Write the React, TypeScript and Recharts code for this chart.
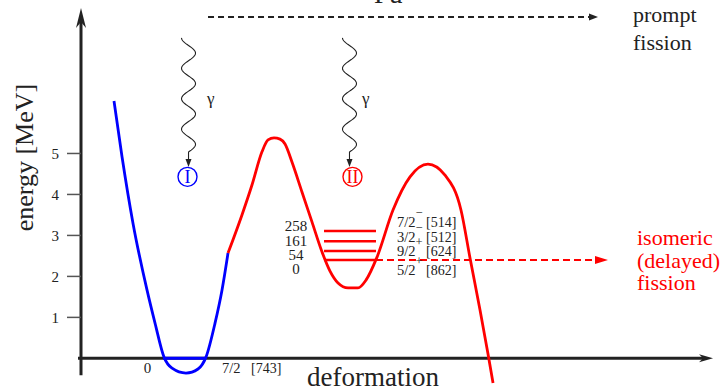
import React from "react";
import { ComposedChart, Line, XAxis, YAxis, ReferenceLine, ReferenceDot } from "recharts";

const SERIF = '"Liberation Serif", "DejaVu Serif", serif';
const INK = "#222";
const BLUE = "#0000ff";
const RED = "#ff0000";

// ground-state well (deformation, energy in MeV)
const firstWell = [
  { x: 0.518, e: 6.28 },
  { x: 0.644, e: 4.92 },
  { x: 0.816, e: 3.3 },
  { x: 1.036, e: 1.67 },
  { x: 1.162, e: 0.86 },
  { x: 1.303, e: 0.03 },
  { x: 1.429, e: -0.24 },
  { x: 1.648, e: -0.36 },
  { x: 1.837, e: -0.26 },
  { x: 1.962, e: 0.03 },
  { x: 2.104, e: 0.86 },
  { x: 2.214, e: 1.67 },
  { x: 2.308, e: 2.57 },
];

// inner barrier, isomer well and outer barrier
const doubleHump = [
  { x: 2.308, e: 2.57 },
  { x: 2.527, e: 3.5 },
  { x: 2.684, e: 4.23 },
  { x: 2.841, e: 5.04 },
  { x: 2.936, e: 5.33 },
  { x: 3.03, e: 5.38 },
  { x: 3.124, e: 5.35 },
  { x: 3.203, e: 5.23 },
  { x: 3.312, e: 4.79 },
  { x: 3.469, e: 4.06 },
  { x: 3.626, e: 3.33 },
  { x: 3.783, e: 2.6 },
  { x: 3.909, e: 2.13 },
  { x: 4.035, e: 1.84 },
  { x: 4.192, e: 1.72 },
  { x: 4.349, e: 1.72 },
  { x: 4.474, e: 1.91 },
  { x: 4.647, e: 2.47 },
  { x: 4.898, e: 3.62 },
  { x: 5.165, e: 4.43 },
  { x: 5.447, e: 4.74 },
  { x: 5.714, e: 4.47 },
  { x: 5.965, e: 3.62 },
  { x: 6.107, e: 2.45 },
  { x: 6.264, e: 1.18 },
  { x: 6.389, e: 0.11 },
  { x: 6.468, e: -0.6 },
];

const energyTicks = [1, 2, 3, 4, 5];

// ground state in well I
const groundLevel = { e: 0, from: 1.287, to: 1.947 };
const groundOrbit = { spin: "7/2", parity: "−", orbit: "[743]" };

// band in well II, bottom to top
const isomerLevelE = [2.4, 2.62, 2.86, 3.11];
const isomerKeV = ["0", "54", "161", "258"];
const isomerSpin = ["5/2", "9/2", "3/2", "7/2"];
const isomerParity = ["+", "+", "−", "−"];
const isomerOrbit = ["[862]", "[624]", "[512]", "[514]"];
const levelFrom = 3.815;
const levelTo = 4.631;

// label rows beside the band (energy of each baseline)
const keVRowE = [2.06, 2.4, 2.75, 3.11];
const orbitRowE = [2.035, 2.498, 2.84, 3.206];

const textAt =
  (text: string, opts: { size?: number; color?: string; anchor?: string } = {}) =>
  (p: any) => (
    <text
      x={p.cx}
      y={p.cy}
      fontFamily={SERIF}
      fontSize={opts.size ?? 15}
      fill={opts.color ?? INK}
      textAnchor={opts.anchor ?? "start"}
    >
      {text}
    </text>
  );

const orbitLabel =
  (spin: string, parity: string, orbit: string, size = 14.5) =>
  (p: any) => (
    <g fontFamily={SERIF} fill={INK}>
      <text x={p.cx} y={p.cy} fontSize={size}>
        {spin}
      </text>
      <text x={p.cx + 22} y={p.cy - 10} fontSize={size - 2} textAnchor="middle">
        {parity}
      </text>
      <text x={p.cx + 29} y={p.cy} fontSize={size - 0.5}>
        {orbit}
      </text>
    </g>
  );

const rotatedText = (text: string, size: number) => (p: any) => (
  <text
    transform={`translate(${p.cx},${p.cy}) rotate(-90)`}
    fontFamily={SERIF}
    fontSize={size}
    fill={INK}
    textAnchor="middle"
  >
    {text}
  </text>
);

const circled = (text: string, color: string) => (p: any) => (
  <g>
    <circle cx={p.cx} cy={p.cy} r={9.5} fill="#fff" stroke={color} strokeWidth={1.4} />
    <text
      x={p.cx}
      y={p.cy + 6}
      fontFamily={SERIF}
      fontSize={18}
      fill={color}
      textAnchor="middle"
    >
      {text}
    </text>
  </g>
);

// straight (optionally dashed) line with an arrow head at the second end
const arrowLine =
  (color: string, width: number, dash: string | undefined, len: number, half: number, notch: number) =>
  (p: any) => {
    const { x1, y1, x2, y2 } = p;
    const a = Math.atan2(y2 - y1, x2 - x1);
    const c = Math.cos(a);
    const s = Math.sin(a);
    const bx = x2 - c * len;
    const by = y2 - s * len;
    const nx = x2 - c * (len - notch);
    const ny = y2 - s * (len - notch);
    const pts = [
      [x2, y2],
      [bx - s * half, by + c * half],
      [nx, ny],
      [bx + s * half, by - c * half],
    ]
      .map((q) => q.join(","))
      .join(" ");
    return (
      <g>
        <line
          x1={x1}
          y1={y1}
          x2={nx}
          y2={ny}
          stroke={color}
          strokeWidth={width}
          strokeDasharray={dash}
        />
        <polygon points={pts} fill={color} />
      </g>
    );
  };

// wavy gamma arrow running downwards
const gammaArrow = (p: any) => {
  const { x1, y1, y2 } = p;
  const waveEnd = y2 - 15;
  const turns = 3.75;
  const amp = 7;
  const steps = 120;
  let d = "";
  for (let i = 0; i <= steps; i++) {
    const t = i / steps;
    const y = y1 + t * (waveEnd - y1);
    const x = x1 - amp * Math.cos(2 * Math.PI * turns * t);
    d += `${i === 0 ? "M" : "L"}${x.toFixed(2)},${y.toFixed(2)}`;
  }
  d += `L${x1},${y2 - 6}`;
  return (
    <g>
      <path d={d} fill="none" stroke={INK} strokeWidth={1.1} />
      <polygon points={`${x1},${y2} ${x1 - 3},${y2 - 8} ${x1 + 3},${y2 - 8}`} fill={INK} />
    </g>
  );
};

const plainLine = (color: string, width: number) => (p: any) => (
  <line x1={p.x1} y1={p.y1} x2={p.x2} y2={p.y2} stroke={color} strokeWidth={width} />
);

export default function App() {
  return (
    <div style={{ position: "absolute", left: 0, top: 0, width: 723, height: 391, background: "#fff" }}>
      <ComposedChart width={723} height={391} margin={{ top: 8, right: 5, bottom: 6, left: 0 }}>
        <XAxis type="number" dataKey="x" domain={[0, 10]} hide allowDataOverflow />
        <YAxis
          type="number"
          domain={[-0.65, 8.55]}
          ticks={energyTicks}
          allowDataOverflow
          width={81}
          axisLine={false}
          tickSize={14}
          tickMargin={8}
          tickLine={{ stroke: "#555", strokeWidth: 1.5 }}
          tick={{ fill: INK, fontSize: 15, fontFamily: SERIF }}
        />

        {/* axes drawn as arrows */}
        <ReferenceLine
          segment={[{ x: -0.047, y: 0 }, { x: 9.922, y: 0 }]}
          ifOverflow="visible"
          shape={arrowLine("#222", 3, undefined, 14, 4, 4)}
        />
        <ReferenceLine
          segment={[{ x: 0, y: -0.41 }, { x: 0, y: 8.55 }]}
          ifOverflow="visible"
          shape={arrowLine("#222", 3, undefined, 20, 5, 6)}
        />

        <Line
          data={firstWell}
          dataKey="e"
          type="monotone"
          stroke={BLUE}
          strokeWidth={2.8}
          dot={false}
          activeDot={false}
          isAnimationActive={false}
        />
        <Line
          data={doubleHump}
          dataKey="e"
          type="monotone"
          stroke={RED}
          strokeWidth={2.8}
          dot={false}
          activeDot={false}
          isAnimationActive={false}
        />

        <ReferenceLine
          segment={[
            { x: groundLevel.from, y: groundLevel.e },
            { x: groundLevel.to, y: groundLevel.e },
          ]}
          ifOverflow="visible"
          shape={plainLine(BLUE, 3)}
        />
        {isomerLevelE.map((e, i) => (
          <ReferenceLine
            key={"lv" + i}
            segment={[{ x: levelFrom, y: e }, { x: levelTo, y: e }]}
            ifOverflow="visible"
            shape={plainLine(RED, 2.5)}
          />
        ))}

        {/* prompt and delayed fission paths */}
        <ReferenceLine
          segment={[{ x: 1.994, y: 8.33 }, { x: 8.116, y: 8.33 }]}
          ifOverflow="visible"
          shape={arrowLine(INK, 1.8, "6 4", 9, 3.5, 0)}
        />
        <ReferenceLine
          segment={[{ x: levelTo, y: isomerLevelE[0] }, { x: 8.273, y: isomerLevelE[0] }]}
          ifOverflow="visible"
          shape={arrowLine(RED, 2, "7 4", 13, 4, 0)}
        />

        {/* gamma decay into each well */}
        <ReferenceLine
          segment={[{ x: 1.688, y: 7.82 }, { x: 1.688, y: 4.67 }]}
          ifOverflow="visible"
          shape={gammaArrow}
        />
        <ReferenceLine
          segment={[{ x: 4.215, y: 7.82 }, { x: 4.215, y: 4.67 }]}
          ifOverflow="visible"
          shape={gammaArrow}
        />
        <ReferenceDot x={1.672} y={4.43} ifOverflow="visible" shape={circled("I", BLUE)} />
        <ReferenceDot x={4.262} y={4.43} ifOverflow="visible" shape={circled("II", RED)} />
        <ReferenceDot x={1.978} y={6.21} ifOverflow="visible" shape={textAt("γ", { size: 17 })} />
        <ReferenceDot x={4.411} y={6.21} ifOverflow="visible" shape={textAt("γ", { size: 17 })} />

        {/* band labels */}
        {isomerKeV.map((k, i) => (
          <ReferenceDot
            key={"kev" + i}
            x={3.375}
            y={keVRowE[i]}
            ifOverflow="visible"
            shape={textAt(k, { anchor: "middle" })}
          />
        ))}
        {isomerSpin.map((s, i) => (
          <ReferenceDot
            key={"orb" + i}
            x={4.961}
            y={orbitRowE[i]}
            ifOverflow="visible"
            shape={orbitLabel(s, isomerParity[i], isomerOrbit[i])}
          />
        ))}
        <ReferenceDot x={1.044} y={-0.357} ifOverflow="visible" shape={textAt("0", { anchor: "middle" })} />
        <ReferenceDot
          x={2.214}
          y={-0.357}
          ifOverflow="visible"
          shape={orbitLabel(groundOrbit.spin, groundOrbit.parity, groundOrbit.orbit)}
        />

        {/* titles and captions */}
        <ReferenceDot x={4.6} y={8.67} ifOverflow="visible" shape={textAt("Pu", { size: 27 })} />
        <ReferenceDot x={8.666} y={8.21} ifOverflow="visible" shape={textAt("prompt", { size: 22 })} />
        <ReferenceDot x={8.666} y={7.52} ifOverflow="visible" shape={textAt("fission", { size: 22 })} />
        <ReferenceDot x={8.728} y={2.77} ifOverflow="visible" shape={textAt("isomeric", { size: 22, color: RED })} />
        <ReferenceDot x={8.728} y={2.21} ifOverflow="visible" shape={textAt("(delayed)", { size: 22, color: RED })} />
        <ReferenceDot x={8.728} y={1.67} ifOverflow="visible" shape={textAt("fission", { size: 22, color: RED })} />
        <ReferenceDot x={3.548} y={-0.67} ifOverflow="visible" shape={textAt("deformation", { size: 27 })} />
        <ReferenceDot x={-0.754} y={4.9} ifOverflow="visible" shape={rotatedText("energy [MeV]", 26)} />
      </ComposedChart>
    </div>
  );
}
